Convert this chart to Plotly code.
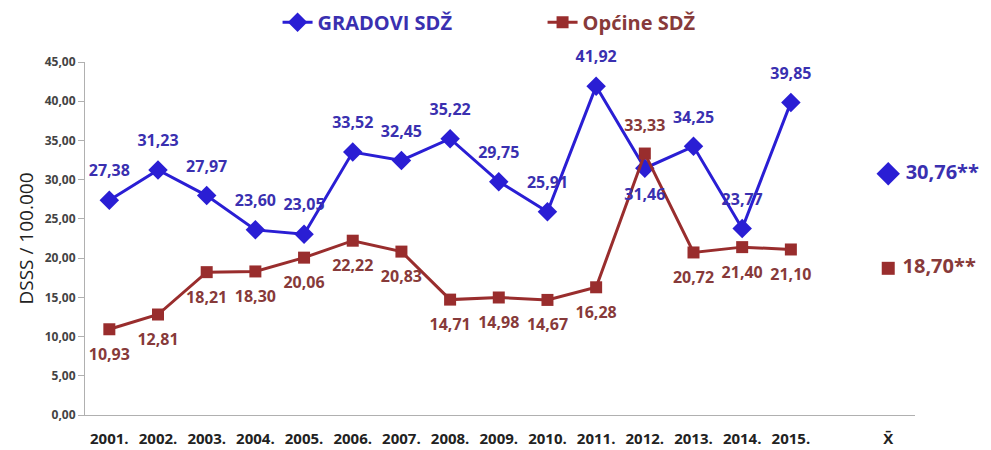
import plotly.graph_objects as go

years = ['2001.', '2002.', '2003.', '2004.', '2005.', '2006.', '2007.', '2008.',
         '2009.', '2010.', '2011.', '2012.', '2013.', '2014.', '2015.']
gradovi = [27.38, 31.23, 27.97, 23.60, 23.05, 33.52, 32.45, 35.22, 29.75, 25.91,
           41.92, 31.46, 34.25, 23.77, 39.85]
opcine = [10.93, 12.81, 18.21, 18.30, 20.06, 22.22, 20.83, 14.71, 14.98, 14.67,
          16.28, 33.33, 20.72, 21.40, 21.10]
mean_label = 'X\u0304'
gradovi_mean = 30.76
opcine_mean = 18.70

BLUE = '#2a1ed4'
BLUE_TXT = '#3a30b0'
RED = '#992d2d'
RED_TXT = '#873a3a'
FONT = 'Open Sans'

xs = list(range(len(years)))
mean_x = len(years) + 1


def fmt(v):
    return f'{v:.2f}'.replace('.', ',')


blue_pos = ['top center'] * len(gradovi)
blue_pos[11] = 'bottom center'
red_pos = ['bottom center'] * len(opcine)
red_pos[11] = 'top center'

fig = go.Figure()

fig.add_trace(go.Scatter(
    x=xs, y=gradovi, mode='lines+markers',
    name=f'<span style="color:{BLUE_TXT}"><b>GRADOVI SDŽ</b></span>',
    line=dict(color=BLUE, width=3),
    marker=dict(symbol='diamond', size=15, color=BLUE),
))

fig.add_trace(go.Scatter(
    x=xs, y=opcine, mode='lines+markers',
    name=f'<span style="color:{RED_TXT}"><b>Općine SDŽ</b></span>',
    line=dict(color=RED, width=3),
    marker=dict(symbol='square', size=12, color=RED),
))

# data labels (invisible larger markers push the text further from the points)
fig.add_trace(go.Scatter(
    x=xs, y=gradovi, mode='markers+text', showlegend=False, hoverinfo='skip',
    marker=dict(size=30, opacity=0),
    text=[fmt(v) for v in gradovi], textposition=blue_pos,
    textfont=dict(family=FONT, size=16, color=BLUE_TXT, weight='bold'),
    cliponaxis=False
))
fig.add_trace(go.Scatter(
    x=xs, y=opcine, mode='markers+text', showlegend=False, hoverinfo='skip',
    marker=dict(size=28, opacity=0),
    text=[fmt(v) for v in opcine], textposition=red_pos,
    textfont=dict(family=FONT, size=16, color=RED_TXT, weight='bold'),
    cliponaxis=False
))

# means
fig.add_trace(go.Scatter(
    x=[mean_x], y=[gradovi_mean], mode='markers+text', showlegend=False,
    marker=dict(symbol='diamond', size=18, color=BLUE),
    text=[' ' + fmt(gradovi_mean) + '**'], textposition='middle right',
    textfont=dict(family=FONT, size=20, color=BLUE_TXT, weight='bold'),
    cliponaxis=False
))
fig.add_trace(go.Scatter(
    x=[mean_x], y=[opcine_mean], mode='markers+text', showlegend=False,
    marker=dict(symbol='square', size=13, color=RED),
    text=[' ' + fmt(opcine_mean) + '**'], textposition='middle right',
    textfont=dict(family=FONT, size=20, color=RED_TXT, weight='bold'),
    cliponaxis=False
))

# the page adds an 8px body margin, so the figure is a little smaller than the window
fig.update_layout(
    width=983, height=442,
    margin=dict(l=77, r=76, t=54, b=35),
    paper_bgcolor='white', plot_bgcolor='white',
    separators=',.',
    font=dict(family=FONT, color='#333333'),
    legend=dict(orientation='h', x=0.232, xanchor='left',
                yref='container', y=0.968, yanchor='middle',
                font=dict(family=FONT, size=20), itemwidth=30,
                traceorder='normal', entrywidth=220),
    xaxis=dict(range=[-0.5, mean_x + 0.55], tickmode='array', automargin=False,
               tickvals=xs + [mean_x], ticktext=years + [mean_label],
               showline=True, linecolor='#b0b0b0', linewidth=1,
               showgrid=False, zeroline=False, ticks='', ticklabelstandoff=10,
               tickfont=dict(family=FONT, size=15, color='#222222', weight='bold')),
    yaxis=dict(range=[0, 45], dtick=5, tickformat='.2f', automargin=False,
               showline=True, linecolor='#b0b0b0', linewidth=1,
               showgrid=False, zeroline=False, ticks='outside', ticklen=6,
               tickcolor='#b0b0b0',
               tickfont=dict(family=FONT, size=12, color='#444444', weight='bold'),
               title=dict(text='DSSS / 100.000', standoff=6,
                          font=dict(family=FONT, size=19, color='#222222'))),
)

fig.write_html('out.html')
